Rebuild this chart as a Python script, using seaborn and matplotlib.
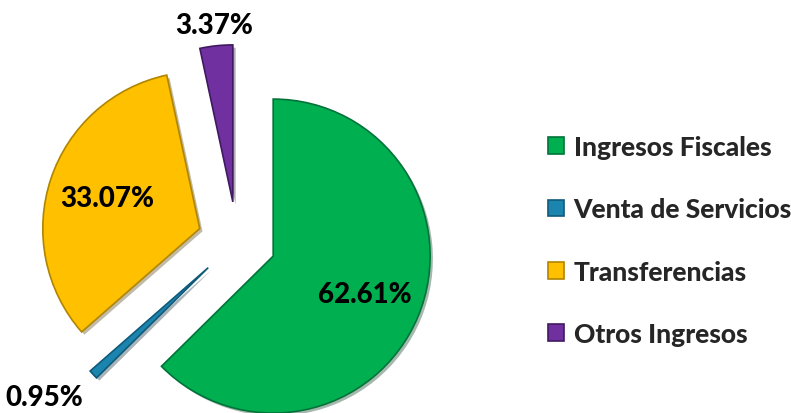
import matplotlib.pyplot as plt
import matplotlib.patheffects as pe
import numpy as np
import seaborn as sns

categories = ['Ingresos Fiscales', 'Venta de Servicios', 'Transferencias', 'Otros Ingresos']
shares = [62.61, 0.95, 33.07, 3.37]
colors = ['#00B050', '#1B85B0', '#FFC000', '#7030A0']
edge_colors = ['#00733a', '#0f5a7a', '#b08500', '#401a60']
# distance of each percentage label from its (exploded) slice centre, in radii,
# and a small turn (degrees) away from the slice's mid angle
label_dist = [0.63, 1.33, 0.62, 1.13]
label_turn = [0, -4.5, 0, 0]

sns.set_theme(style='white')
plt.rcParams['font.family'] = ['Lato', 'DejaVu Sans']

fig = plt.figure(figsize=(7.91, 4.14), dpi=100)
ax = fig.add_axes([0, 0, 1, 1])

wedges, texts, autotexts = ax.pie(
    shares, colors=colors, startangle=90, counterclock=False,
    explode=[0.25] * len(shares), autopct='%.2f%%', pctdistance=0.63,
    wedgeprops=dict(linewidth=0),
    textprops=dict(fontsize=20, fontweight='black', color='black'))

for w, t, d, turn, ec in zip(wedges, autotexts, label_dist, label_turn, edge_colors):
    mid = np.deg2rad((w.theta1 + w.theta2) / 2 + turn)
    cx, cy = w.center
    t.set_position((cx + d * np.cos(mid), cy + d * np.sin(mid)))
    t.set_ha('center')
    t.set_va('center')
    w.set_path_effects([pe.SimplePatchShadow(offset=(2, -2), alpha=0.35),
                        pe.Normal()])
    w.set_edgecolor(ec)
    w.set_linewidth(1.2)

ax.set_xlim(-1.51, 3.53)
ax.set_ylim(-1.096, 1.541)
ax.set_aspect('auto')
ax.axis('off')

leg = fig.legend(wedges, categories, loc='upper left',
                 bbox_to_anchor=(0.680, 0.697), frameon=False,
                 handlelength=0.6, handleheight=0.6, handletextpad=0.35,
                 labelspacing=1.45, borderaxespad=0,
                 prop=dict(size=19, weight='black'))
for h in leg.legend_handles:
    h.set_path_effects([])

fig.savefig('out.png', dpi=100)
